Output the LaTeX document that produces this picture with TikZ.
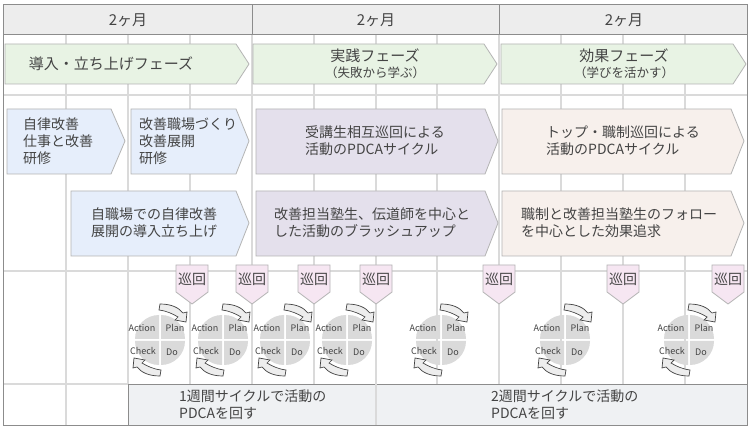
\documentclass[tikz,border=0pt]{standalone}
\usepackage{fontspec}
\setmainfont{Noto Sans CJK JP}
\usepackage{xcolor}
\usepackage{tikz}
\usetikzlibrary{arrows.meta, positioning, shapes.geometric, shapes.symbols}

\definecolor{framegray}{HTML}{8C8C8C}
\definecolor{gridgray}{HTML}{DADADA}
\definecolor{inkgray}{HTML}{444444}
\definecolor{edgegray}{HTML}{B4B4B4}

\begin{document}
\begin{tikzpicture}[
  x=1pt, y=-1pt,
  font=\fontsize{14}{17}\selectfont,
  txt/.style={inkgray, align=center, inner sep=0pt},
  txtl/.style={inkgray, align=left, inner sep=0pt},
  grid/.style={gridgray, line width=1.6pt},
  frame/.style={framegray, line width=1pt},
  phase/.style={draw=edgegray, fill={rgb,255:red,232;green,243;blue,228}, line width=0.8pt},
  intro/.style={draw=edgegray, fill={rgb,255:red,230;green,238;blue,251}, line width=0.8pt},
  practice/.style={draw=edgegray, fill={rgb,255:red,228;green,224;blue,236}, line width=0.8pt},
  effect/.style={draw=edgegray, fill={rgb,255:red,247;green,240;blue,236}, line width=0.8pt},
  tour/.style={draw=edgegray, fill={rgb,255:red,246;green,230;blue,242}, line width=0.8pt},
  turn/.style={draw=inkgray, fill=gray!14, line width=0.7pt},
  slice/.style={fill=gridgray},
  small/.style={inkgray, inner sep=0pt, font=\fontsize{9}{11}\selectfont}
]
\useasboundingbox (0,0) rectangle (750,430);
\fill[white] (0,0) rectangle (750,430);
% header
\fill[gray!14] (3,4.5) rectangle (747,35);
% grid
\foreach \gx in {66,128,190,314,376,437,561,623,685}
  \draw[grid] (\gx,35) -- (\gx,384);
\draw[grid] (66,384) -- (66,425);
\draw[grid] (3,95) -- (747,95);
\draw[grid] (3,271) -- (747,271);
\draw[grid] (3,384) -- (128,384);
% bottom band
\node[draw=framegray, fill={rgb,255:red,239;green,241;blue,243}, line width=0.8pt, minimum width=619pt, minimum height=41pt, inner sep=0pt, anchor=north west] (band) at (128,384) {};
\draw[grid] (376,384.5) -- (376,424.5);
\draw[grid] (252,35) -- (252,384);
\draw[grid] (499,35) -- (499,384);
\draw[frame] (3,35) -- (747,35);
\draw[frame] (252,4.5) -- (252,35);
\draw[frame] (499,4.5) -- (499,35);
\draw[frame] (3,4.5) rectangle (747,425);
% months
\node[txt, font=\fontsize{15}{18}\selectfont] (mon1) at (128,20) {2ヶ月};
\node[txt, font=\fontsize{15}{18}\selectfont] (mon2) at (376,20) {2ヶ月};
\node[txt, font=\fontsize{15}{18}\selectfont] (mon3) at (624,20) {2ヶ月};
% phases
\draw[phase] (5,44) -- (236,44) -- (249,64) -- (236,84) -- (5,84) -- cycle;
\draw[phase] (253,44) -- (484,44) -- (497,64) -- (484,84) -- (253,84) -- cycle;
\draw[phase] (501,44) -- (733,44) -- (746,64) -- (733,84) -- (501,84) -- cycle;
\node[txt, font=\fontsize{15}{18}\selectfont] (ph1) at (111,64) {導入・立ち上げフェーズ};
\node[txt, font=\fontsize{15}{18}\selectfont] (ph2) at (375,56) {実践フェーズ};
\node[txt, font=\fontsize{12.5}{15}\selectfont] (ph2s) at (375,73) {（失敗から学ぶ）};
\node[txt, font=\fontsize{15}{18}\selectfont] (ph3) at (624,56) {効果フェーズ};
\node[txt, font=\fontsize{12.5}{15}\selectfont] (ph3s) at (624,73) {（学びを活かす）};
% row 1
\draw[intro] (7,109) -- (111,109) -- (125,141) -- (111,174) -- (7,174) -- cycle;
\draw[intro] (131,109) -- (236,109) -- (249,141) -- (236,174) -- (131,174) -- cycle;
\draw[practice] (256,109) -- (485,109) -- (498,141) -- (485,174) -- (256,174) -- cycle;
\draw[effect] (502,109) -- (731,109) -- (744,141) -- (731,174) -- (502,174) -- cycle;
\node[txtl, anchor=west] (b1) at (23,141) {自律改善\\仕事と改善\\研修};
\node[txtl, anchor=west] (b2) at (139,141) {改善職場づくり\\改善展開\\研修};
\node[txtl, anchor=west] (b3) at (305,141) {受講生相互巡回による\\活動のPDCAサイクル};
\node[txtl, anchor=west] (b4) at (546,141) {トップ・職制巡回による\\活動のPDCAサイクル};
% row 2
\draw[intro] (71,191) -- (236,191) -- (249,223) -- (236,256) -- (71,256) -- cycle;
\draw[practice] (256,191) -- (485,191) -- (498,223) -- (485,256) -- (256,256) -- cycle;
\draw[effect] (502,191) -- (731,191) -- (744,223) -- (731,256) -- (502,256) -- cycle;
\node[txtl, anchor=west] (c1) at (91,223) {自職場での自律改善\\展開の導入立ち上げ};
\node[txtl, anchor=west] (c2) at (274,223) {改善担当塾生、伝道師を中心と\\した活動のブラッシュアップ};
\node[txtl, anchor=west] (c3) at (521,223) {職制と改善担当塾生のフォロー\\を中心とした効果追求};
% tours
\foreach \tx/\tn in {192/1,252/2,314/3,376/4,499/5,623/6,728/7} {
  \draw[tour] (\tx-16,265) -- (\tx+16,265) -- (\tx+16,292) -- (\tx,304) -- (\tx-16,292) -- cycle;
  \node[txt] (tour\tn) at (\tx,279) {巡回};
}
% cycles
\foreach \cx/\cn in {160/1,223/2,285/3,347/4,441/5,565/6,689/7} {
  \begin{scope}[shift={(\cx,340)}]
    \fill[slice] (1,-1) -- (1,-25) arc (-90:0:24) -- cycle;
    \fill[slice] (1,1) -- (25,1) arc (0:90:24) -- cycle;
    \fill[slice] (-1,1) -- (-1,25) arc (90:180:24) -- cycle;
    \fill[slice] (-1,-1) -- (-25,-1) arc (180:270:24) -- cycle;
    \node[small] (act\cn) at (-18,-12) {Action};
    \node[small] (pln\cn) at (15,-12) {Plan};
    \node[small] (chk\cn) at (-17,11) {Check};
    \node[small] (do\cn) at (12,12) {Do};
    \draw[turn] (0,-36) .. controls (12,-36) and (19,-32) .. (23,-27) -- (27,-28) -- (26,-18) -- (15,-20) -- (18,-23) .. controls (13,-26) and (7,-29) .. (-1,-30) -- cycle;
    \draw[turn] (0,36) .. controls (-12,36) and (-19,32) .. (-23,27) -- (-27,28) -- (-26,18) -- (-15,20) -- (-18,23) .. controls (-13,26) and (-7,29) .. (1,30) -- cycle;
  \end{scope}
}
% bottom text
\node[txtl, anchor=west] (cy1) at (179,405) {1週間サイクルで活動の\\PDCAを回す};
\node[txtl, anchor=west] (cy2) at (491,405) {2週間サイクルで活動の\\PDCAを回す};
\end{tikzpicture}
\end{document}
